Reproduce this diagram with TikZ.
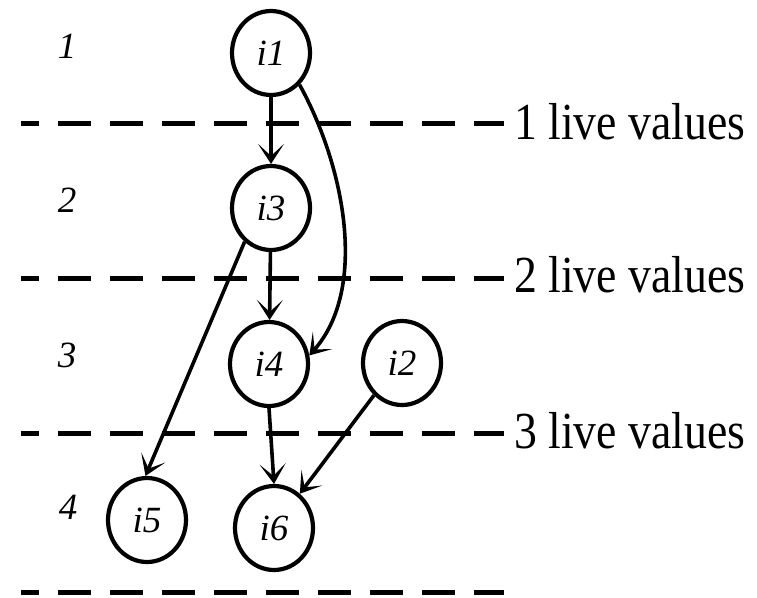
\documentclass[tikz,border=0pt]{standalone}
\usepackage{fontspec}
\setmainfont{Liberation Serif}
\usetikzlibrary{shapes.geometric,arrows.meta}
\begin{document}
\begin{tikzpicture}[x=1pt,y=-1pt,
  inode/.style={ellipse,draw,line width=4.2pt,minimum width=78pt,minimum height=84pt,inner sep=0pt,font=\fontsize{37}{40}\selectfont\itshape},
  lvl/.style={font=\fontsize{37}{40}\selectfont\itshape,anchor=base},
  sepline/.style={line width=5pt,dash pattern=on 33pt off 19pt,dash phase=15pt},
  live/.style={font=\fontsize{52}{56}\selectfont,anchor=base west,xscale=0.88,inner sep=0pt},
  conn/.style={line width=3.6pt,-{Stealth[length=20pt,width=26pt,inset=12pt]}}]
\useasboundingbox (0,0) rectangle (757,597);
% separators
\draw[sepline] (21,123) -- (504,123);
\draw[sepline] (21,278) -- (504,278);
\draw[sepline] (21,433) -- (504,433);
\draw[sepline] (21,592) -- (504,592);
% level numbers
\node[lvl] (n1) at (67,58) {1};
\node[lvl] (n2) at (67,212) {2};
\node[lvl] (n3) at (67,367) {3};
\node[lvl] (n4) at (68,519) {4};
% live labels
\node[live] (l1) at (514,139) {1 live values};
\node[live] (l2) at (514,292) {2 live values};
\node[live] (l3) at (514,448) {3 live values};
% nodes
\node[inode] (i1) at (271,53) {i1};
\node[inode] (i3) at (271,208) {i3};
\node[inode] (i4) at (269,364) {i4};
\node[inode] (i2) at (402,363) {i2};
\node[inode] (i5) at (147,520) {i5};
\node[inode] (i6) at (274,528) {i6};
% connectors
\draw[conn] (i1) -- (i3);
\draw[conn] (i1.-48) .. controls (345,167) and (368,289) .. (i4.12);
\draw[conn] (i3) -- (i4);
\draw[conn] (i3.-128) -- (i5.92);
\draw[conn] (i4.south) -- (i6.north);
\draw[conn] (i2.-131) -- (i6.53);
\end{tikzpicture}
\end{document}
